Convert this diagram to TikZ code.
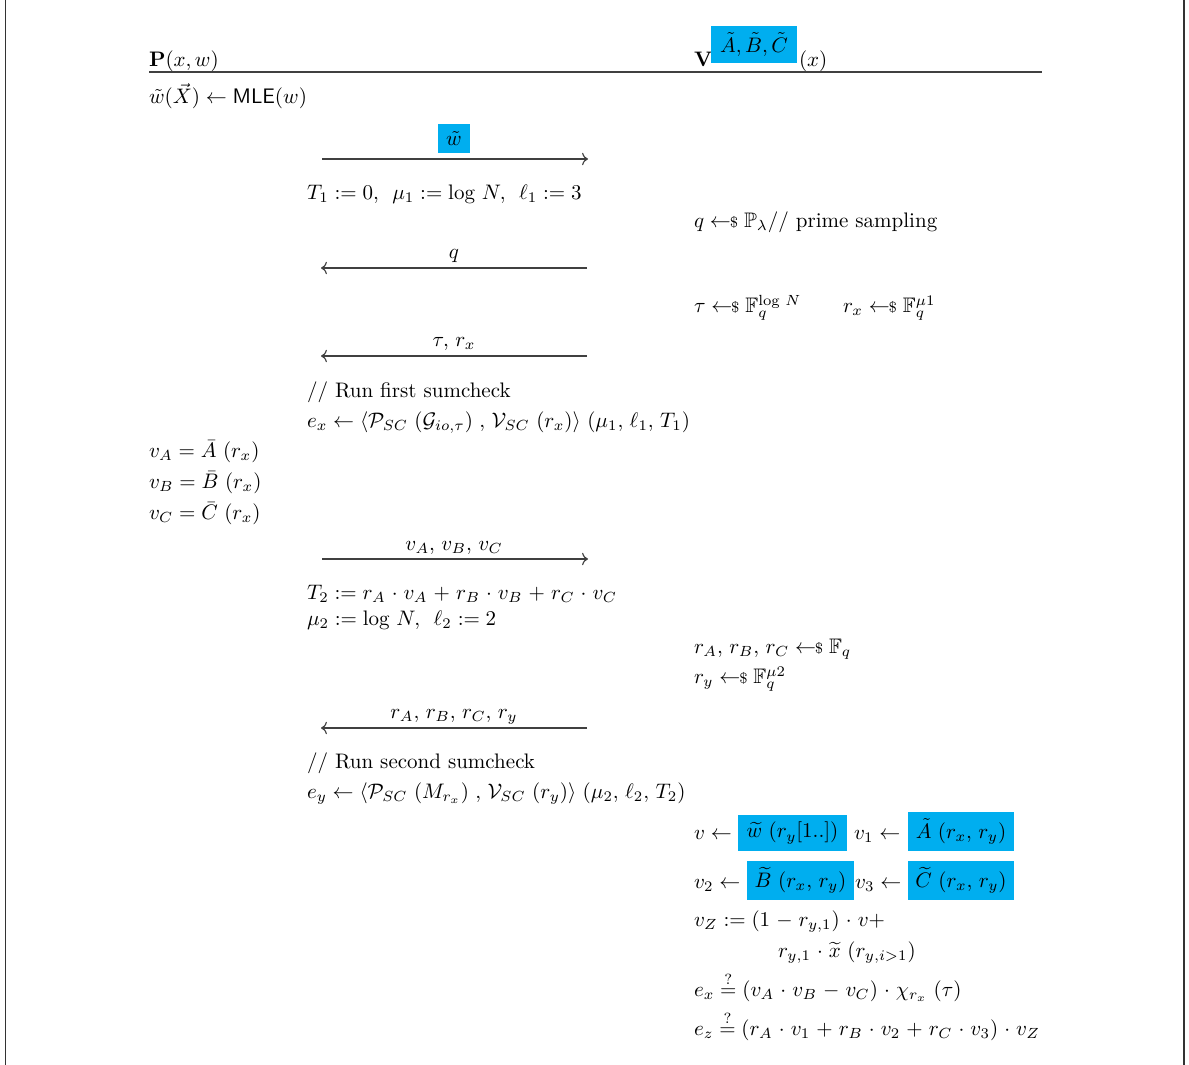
\documentclass[tikz,border=0pt]{standalone}
\usepackage{amsmath,amssymb}
\usetikzlibrary{arrows.meta}
\definecolor{hlblue}{RGB}{0,174,239}
\newcommand{\smp}{\mathrel{\leftarrow\mkern-6mu{\scriptstyle\$}}}
\thinmuskip=5.5mu
\medmuskip=5.2mu plus 2mu minus 4mu
\begin{document}
\begin{tikzpicture}[x=0.476pt,y=-0.476pt,
  txt/.style={anchor=base west,inner sep=0pt,outer sep=0pt,yshift=-0.8pt},
  lbl/.style={anchor=base,inner sep=0pt,outer sep=0pt,yshift=-0.5pt},
  hl/.style={fill=hlblue,inner sep=0pt,outer sep=0pt},
  msg/.style={->,line width=0.55pt,draw=black!75},
  frame/.style={line width=0.55pt,draw=black!80}]
\useasboundingbox (0,0) rectangle (1189,1065);
% frame sides
\coordinate (fl1) at (5.5,0); \coordinate (fl2) at (5.5,1065);
\coordinate (fr1) at (1184,0); \coordinate (fr2) at (1184,1065);
\draw[frame] (fl1) -- (fl2);
\draw[frame] (fr1) -- (fr2);
% header
\node[txt] (P) at (149,64.5) {\thinmuskip=3mu $\mathbf{P}(x,w)$};
\node[txt] (V) at (694,64.5) {$\mathbf{V}$};
\node[hl,minimum width=40.9pt,minimum height=17.6pt] (Vbox) at (754,44.5) {\thinmuskip=3mu $\tilde{A},\tilde{B},\tilde{C}$};
\node[txt] (Vx) at (799,64.5) {$(x)$};
\coordinate (h1) at (149,72); \coordinate (h2) at (1042,72);
\draw[line width=0.8pt,draw=black!75] (h1) -- (h2);
% prover first line
\node[txt] (mle) at (149,102) {$\tilde{w}(\vec{X}) \leftarrow \mathsf{MLE}(w)$};
% message 1
\coordinate (a1s) at (322,159); \coordinate (a1e) at (588,159);
\draw[msg] (a1s) -- (a1e);
\node[hl,minimum width=15.2pt,minimum height=13.8pt] (wbox) at (454,138.5) {$\tilde{w}$};
\node[txt] (T1) at (307,198) {$T_1 := 0,\ \mu_1 := \log N,\ \ell_1 := 3$};
\node[txt] (qs) at (694,226) {$q \smp \mathbb{P}_\lambda$// prime sampling};
% message 2
\coordinate (a2s) at (587,268); \coordinate (a2e) at (321,268);
\draw[msg] (a2s) -- (a2e);
\node[lbl] (ql) at (454,257) {$q$};
\node[txt] (tau) at (694,311) {$\tau \smp \mathbb{F}_q^{\log N}$};
\node[txt] (rx) at (843,311) {$r_x \smp \mathbb{F}_q^{\mu 1}$};
% message 3
\coordinate (a3s) at (587,356); \coordinate (a3e) at (321,356);
\draw[msg] (a3s) -- (a3e);
\node[lbl] (taul) at (454,345) {$\tau, r_x$};
\node[txt] (sc1) at (307,396) {// Run first sumcheck};
\node[txt] (ex) at (307,426) {$e_x \leftarrow \left\langle \mathcal{P}_{SC}\left(\mathcal{G}_{io,\tau}\right), \mathcal{V}_{SC}\left(r_x\right)\right\rangle \left(\mu_1,\ell_1,T_1\right)$};
\node[txt] (vA) at (149,456) {$v_A = \bar{A}\left(r_x\right)$};
\node[txt] (vB) at (149,487) {$v_B = \bar{B}\left(r_x\right)$};
\node[txt] (vC) at (149,518) {$v_C = \bar{C}\left(r_x\right)$};
% message 4
\coordinate (a4s) at (322,559); \coordinate (a4e) at (588,559);
\draw[msg] (a4s) -- (a4e);
\node[lbl] (vl) at (454,549) {$v_A, v_B, v_C$};
\node[txt] (T2) at (307,598) {$T_2 := r_A \cdot v_A + r_B \cdot v_B + r_C \cdot v_C$};
\node[txt] (mu2) at (307,624) {$\mu_2 := \log N,\ \ell_2 := 2$};
\node[txt] (rABC) at (694,652) {$r_A, r_B, r_C \smp \mathbb{F}_q$};
\node[txt] (ry) at (694,682) {$r_y \smp \mathbb{F}_q^{\mu 2}$};
% message 5
\coordinate (a5s) at (587,728); \coordinate (a5e) at (321,728);
\draw[msg] (a5s) -- (a5e);
\node[lbl] (rl) at (454,717) {$r_A, r_B, r_C, r_y$};
\node[txt] (sc2) at (307,767) {// Run second sumcheck};
\node[txt] (ey) at (307,797) {$e_y \leftarrow \left\langle \mathcal{P}_{SC}\left(M_{r_x}\right), \mathcal{V}_{SC}\left(r_y\right)\right\rangle \left(\mu_2,\ell_2,T_2\right)$};
% verifier checks
\node[txt] (v0) at (694,838) {$v \leftarrow$};
\node[hl,minimum width=51.9pt,minimum height=17.1pt] (wb) at (792.5,833) {$\widetilde{w}\left(r_y[1..]\right)$};
\node[txt] (v1) at (854,838) {$v_1 \leftarrow$};
\node[hl,minimum width=50.5pt,minimum height=18.6pt] (Ab) at (961,831.5) {$\tilde{A}\left(r_x,r_y\right)$};
\node[txt] (v2) at (694,887) {$v_2 \leftarrow$};
\node[hl,minimum width=50.9pt,minimum height=18.6pt] (Bb) at (800.5,880.5) {$\widetilde{B}\left(r_x,r_y\right)$};
\node[txt] (v3) at (855,887) {$v_3 \leftarrow$};
\node[hl,minimum width=50.5pt,minimum height=18.6pt] (Cb) at (961,880.5) {$\widetilde{C}\left(r_x,r_y\right)$};
\node[txt] (vZ) at (694,925) {$v_Z := \left(1 - r_{y,1}\right) \cdot v +$};
\node[txt] (vZ2) at (778,956) {$r_{y,1} \cdot \widetilde{x}\left(r_{y,i>1}\right)$};
\node[txt] (chk1) at (694,995) {$e_x \stackrel{?}{=} \left(v_A \cdot v_B - v_C\right) \cdot \chi_{r_x}\left(\tau\right)$};
\node[txt] (chk2) at (694,1034) {$e_z \stackrel{?}{=} \left(r_A \cdot v_1 + r_B \cdot v_2 + r_C \cdot v_3\right) \cdot v_Z$};
\end{tikzpicture}
\end{document}
